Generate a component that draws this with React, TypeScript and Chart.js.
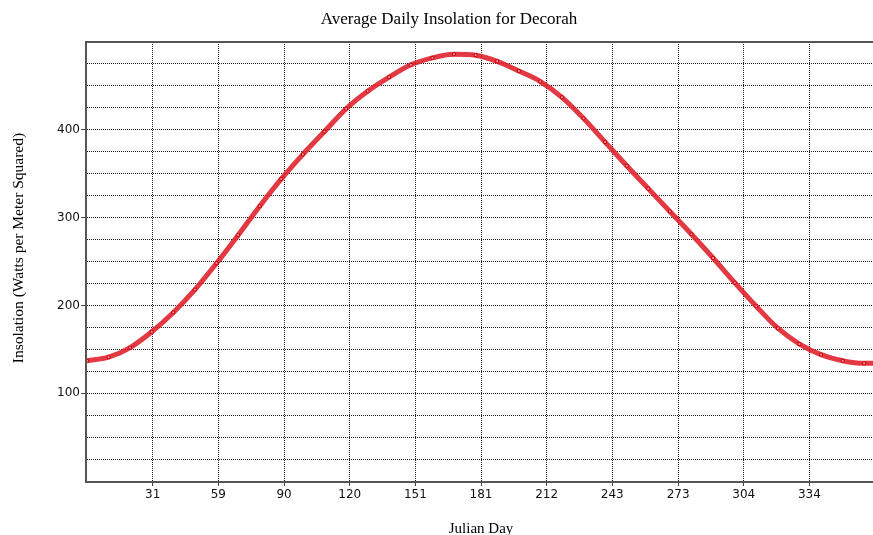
import React, { useEffect, useRef } from 'react';
import { Chart, registerables } from 'chart.js';

Chart.register(...registerables);

const TITLE = 'Average Daily Insolation for Decorah';
const X_TITLE = 'Julian Day';
const Y_TITLE = 'Insolation (Watts per Meter Squared)';

const days = [0, 10, 20, 30, 40, 50, 60, 70, 80, 90, 100, 110, 120, 130, 140, 150, 160, 170, 180, 190, 200, 210, 220, 230, 240, 250, 260, 270, 280, 290, 300, 310, 320, 330, 340, 350, 360, 365];
const insolation = [137, 141, 152, 170, 192, 218, 248, 280, 313, 344, 372, 398, 424, 444, 460, 474, 482, 486, 485, 478, 467, 455, 437, 413, 386, 359, 333, 307, 281, 254, 226, 199, 174, 156, 144, 137, 134, 134];

const xTickDays = [30.4, 60.8, 91.3, 121.7, 152.1, 182.5, 212.9, 243.3, 273.8, 304.2, 334.6];
const xTickLabels = ['31', '59', '90', '120', '151', '181', '212', '243', '273', '304', '334'];
const yLabelValues = [100, 200, 300, 400];

export default function App() {
  const ref = useRef<HTMLCanvasElement>(null);

  useEffect(() => {
    if (!ref.current) return;
    const frame = {
      id: 'frame',
      beforeDatasetsDraw(chart: any) {
        const { ctx, chartArea: a } = chart;
        ctx.save();
        ctx.strokeStyle = '#555';
        ctx.lineWidth = 2;
        ctx.strokeRect(a.left - 1, a.top, a.right - a.left + 1, a.bottom - a.top + 1);
        ctx.restore();
      },
    };
    const titlePlugin = {
      id: 'titleText',
      afterDraw(chart: any) {
        const { ctx } = chart;
        ctx.save();
        ctx.fillStyle = '#000';
        ctx.textAlign = 'center';
        ctx.textBaseline = 'middle';
        ctx.font = '17px "Liberation Serif", serif';
        ctx.fillText(TITLE, 449, 20);
        ctx.translate(19, 248);
        ctx.rotate(-Math.PI / 2);
        ctx.font = '15.5px "Liberation Serif", serif';
        ctx.fillText(Y_TITLE, 0, 0);
        ctx.restore();
      },
    };

    const chart = new Chart(ref.current, {
      type: 'line',
      data: {
        datasets: [
          {
            data: days.map((d, i) => ({ x: d, y: insolation[i] })),
            borderColor: 'rgba(222,30,40,0.88)',
            borderWidth: 5,
            pointRadius: 2,
            pointStyle: 'rect',
            pointBackgroundColor: '#f3a8a8',
            pointBorderColor: '#d00010',
            pointBorderWidth: 1,
            cubicInterpolationMode: 'monotone',
          },
        ],
      },
      options: {
        responsive: false,
        maintainAspectRatio: false,
        animation: false,
        layout: { padding: { top: 42, left: 0, right: 5, bottom: 0 } },
        plugins: {
          legend: { display: false },
          title: { display: false },
          tooltip: { enabled: false },
        },
        scales: {
          x: {
            type: 'linear',
            min: 0,
            max: 365,
            afterBuildTicks: (s: any) => {
              s.ticks = xTickDays.map((v) => ({ value: v }));
            },
            afterFit: (s: any) => {
              s.height = 59;
            },
            ticks: {
              autoSkip: false,
              maxRotation: 0,
              padding: 2,
              color: '#111',
              font: { family: 'DejaVu Sans', size: 12 },
              callback: (_v: any, i: number) => xTickLabels[i] ?? '',
            },
            grid: { color: '#222', lineWidth: 1, tickLength: 5, tickColor: '#444' },
            border: { display: false, dash: [1, 1] },
            title: {
              display: true,
              text: X_TITLE,
              color: '#000',
              font: { family: 'Liberation Serif', size: 15 },
              padding: { top: 0, bottom: 2 },
            },
          },
          y: {
            min: 0,
            max: 500,
            afterFit: (s: any) => {
              s.width = 87;
            },
            ticks: {
              stepSize: 25,
              autoSkip: false,
              padding: 1,
              color: '#111',
              font: { family: 'DejaVu Sans', size: 12 },
              callback: (v: any) => (yLabelValues.includes(Number(v)) ? String(v) : ''),
            },
            grid: {
              color: '#222',
              lineWidth: 1,
              tickLength: 6,
              tickColor: (c: any) => (c.tick && yLabelValues.includes(c.tick.value) ? '#444' : 'rgba(0,0,0,0)'),
            },
            border: { display: false, dash: [1, 1] },
            title: { display: false },
          },
        },
      },
      plugins: [frame, titlePlugin],
    } as any);

    return () => chart.destroy();
  }, []);

  return (
    <div style={{ position: 'fixed', left: 0, top: 0, width: 873, height: 535, overflow: 'hidden', background: '#fff' }}>
      <canvas ref={ref} width={880} height={540} style={{ display: 'block' }} />
    </div>
  );
}
